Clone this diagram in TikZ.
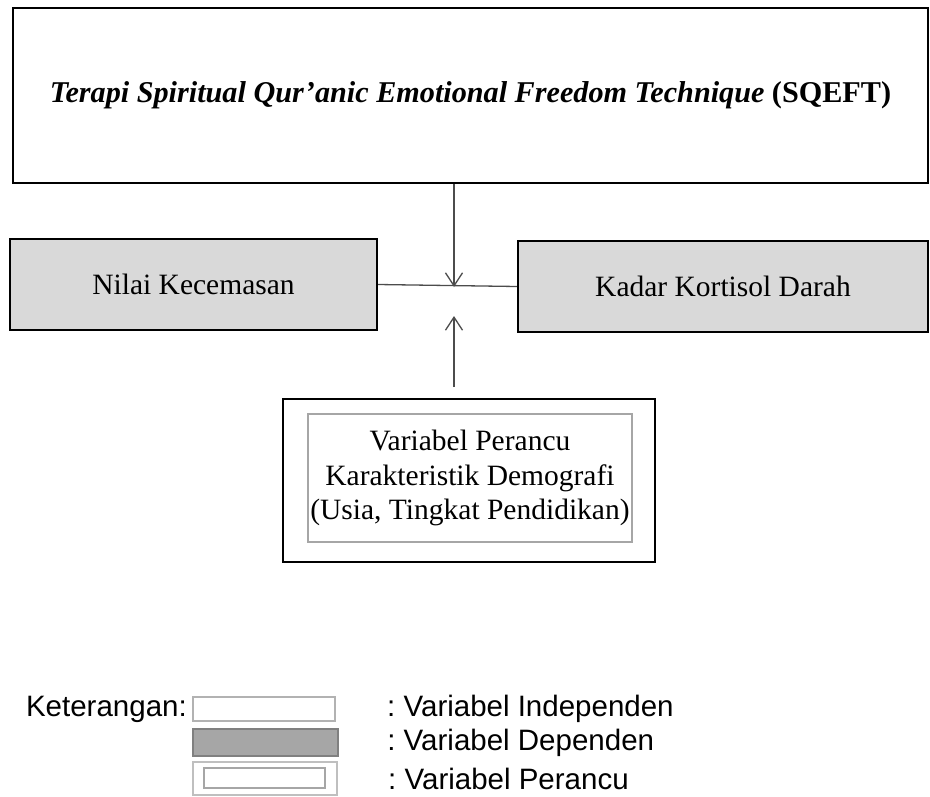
\documentclass[tikz,border=0pt]{standalone}
\usepackage{fontspec}
\setmainfont{Liberation Serif}
\newfontfamily\legendfont{Liberation Sans}
\usetikzlibrary{arrows.meta,positioning}

\begin{document}
\begin{tikzpicture}[x=1pt, y=-1pt, >={Straight Barb[length=13pt,width=17pt]},
                    line width=2.2pt, style={inner sep=0pt}]
\tikzstyle{every node}=[font=\fontsize{29.5}{34.5}\selectfont]
\tikzstyle{varbox}=[rectangle, draw, align=center]
\tikzstyle{depbox}=[varbox, fill=black!15]
\tikzstyle{link}=[draw=black!70, line width=1.3pt]
\tikzstyle{legtext}=[font=\legendfont\fontsize{29.5}{33}\selectfont\frenchspacing]
\useasboundingbox (0,0) rectangle (930,796);

% variabel independen
\node [varbox, font=\fontsize{30.2}{34.5}\selectfont, minimum width=915pt, minimum height=175pt] (sqeft) at (470.5,95.5)
  {\textbf{\textit{Terapi Spiritual Qur’anic Emotional Freedom Technique}} \textbf{(SQEFT)}};

% variabel dependen
\node [depbox, minimum width=367pt, minimum height=91pt] (nilai) at (193.5,284.5) {Nilai Kecemasan};
\node [depbox, minimum width=410pt, minimum height=91pt] (kadar) at (723,286.5) {Kadar Kortisol Darah};

% variabel perancu
\node [varbox, minimum width=372pt, minimum height=163pt] (perancu) at (469,480.5) {};
\node [varbox, draw=black!35, minimum width=324pt, minimum height=128pt] (perancuin) at (470,478)
  {Variabel Perancu\\Karakteristik Demografi\\(Usia, Tingkat Pendidikan)};

\coordinate (meet) at (454,287);
\coordinate (upstart) at (454,387);
\coordinate (uptip) at (454,316);

\path (nilai.east) edge [link] (kadar.west);
\path (sqeft.south -| meet) edge [link, ->] (meet);
\path (upstart) edge [link, ->] (uptip);

% keterangan
\node [varbox, draw=black!30, fill=white, minimum width=142pt, minimum height=24pt] (leg1) at (264,709) {};
\node [varbox, draw=black!50, fill=black!35, line width=2.5pt, minimum width=145pt, minimum height=27pt] (leg2) at (265.5,742.5) {};
\node [varbox, draw=black!25, minimum width=144pt, minimum height=33pt] (leg3) at (265,778.5) {};
\node [varbox, draw=black!35, minimum width=121pt, minimum height=20pt] (leg3in) at (264.5,778) {};

\node [legtext, left=4pt of leg1] (ket) {Keterangan:};
\node [legtext, right=50pt of leg1] (indep) {: Variabel Independen};
\node [legtext, right=47pt of leg2] (dep) {: Variabel Dependen};
\node [legtext, right=49pt of leg3] (per) {: Variabel Perancu};
\end{tikzpicture}
\end{document}
